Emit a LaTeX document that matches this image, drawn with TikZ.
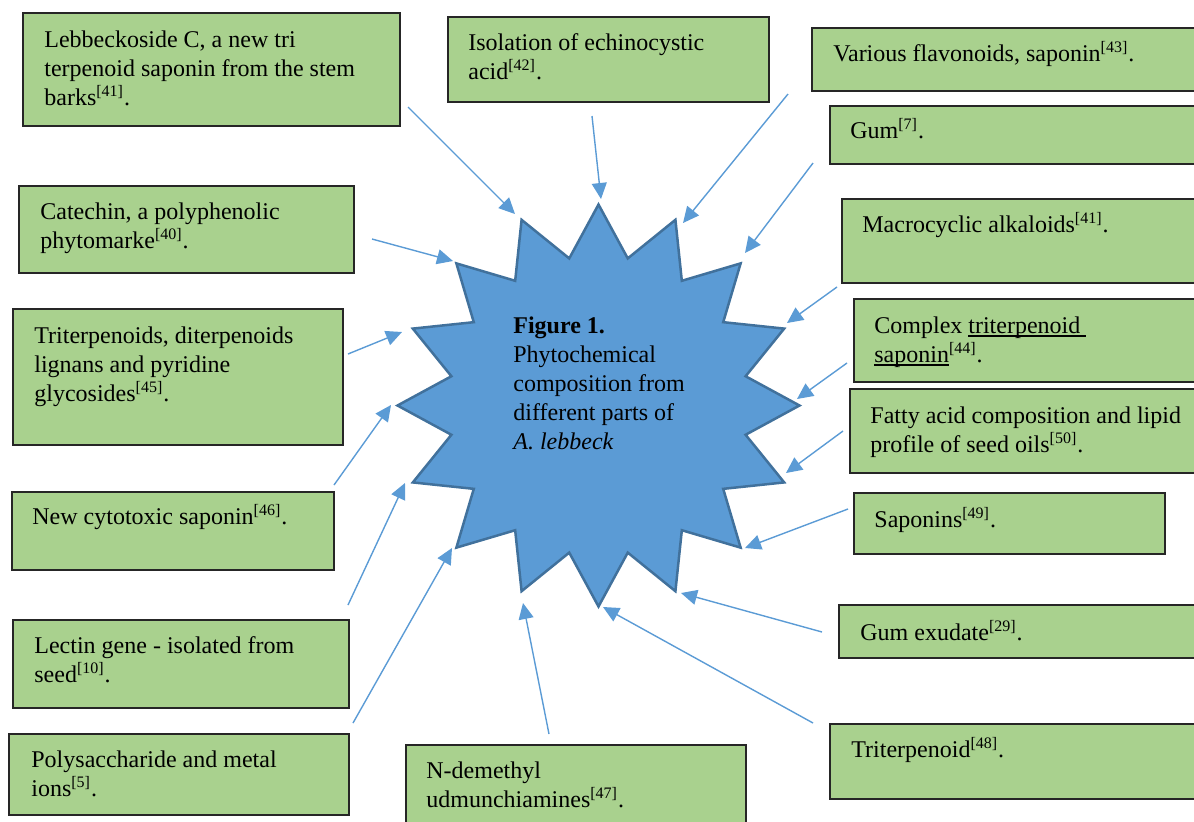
\documentclass[tikz,border=0pt]{standalone}
\usepackage{fontspec}
\setmainfont{Liberation Serif}
\usetikzlibrary{arrows.meta,calc}
\definecolor{boxgreen}{HTML}{A9D18E}
\definecolor{starblue}{HTML}{5B9BD5}
\definecolor{staredge}{HTML}{41719C}
\definecolor{arrowblue}{HTML}{5B9BD5}
\newcommand\gbox[5]{\node[gbx, minimum width={(#4-#2)*0.5pt}, minimum height={(#5-#3)*0.5pt}] (#1) at ({(#2+#4)/2},{(#3+#5)/2}) {};}
\newcommand\sref[1]{\textsuperscript{[#1]}}
\newcommand\myul[1]{\setbox0\hbox{#1}\rlap{\vrule width\wd0 height -1.2pt depth 1.85pt}\box0}
\begin{document}
\begin{tikzpicture}[x=0.5pt,y=-0.5pt,
  gbx/.style={draw=black!85, line width=1pt, fill=boxgreen, inner sep=0pt, outer sep=0pt},
  txt/.style={inner sep=0pt, anchor=base west, font=\fontsize{12pt}{14.5pt}\selectfont},
  arr/.style={draw=arrowblue, line width=0.7pt, -{Triangle[length=8pt,width=7.5pt]}},
  starshape/.style={draw=staredge, fill=starblue, line width=1.25pt, line join=miter}]
\useasboundingbox (0,0) rectangle (1194,821);
\clip (0,0) rectangle (1194,821);

% central star
\coordinate (c) at (598.5,405.5);
\path[starshape] ($(c)+(90:201)$) \foreach \i in {0,...,15}{ -- ($(c)+(90+\i*22.5+11.25:150)$) -- ($(c)+(90+\i*22.5+22.5:201)$) } -- cycle;
\node[txt] (title) at (513,333) {\vtop{\hbox{\textbf{Figure 1.}}\hbox{Phytochemical}\hbox{composition from}\hbox{different parts of}\hbox{\textit{A. lebbeck}}}};

% boxes
\gbox{b1}{23}{13}{400}{126}
\gbox{b2}{19}{186}{354}{273}
\gbox{b3}{13}{309}{343}{445}
\gbox{b4}{12}{492}{334}{570}
\gbox{b5}{13}{620}{349}{708}
\gbox{b6}{9}{734}{349}{815}
\gbox{b7}{406}{745}{746}{840}
\gbox{b8}{448}{17}{769}{102}
\gbox{b9}{812}{28}{1210}{91}
\gbox{b10}{830}{106}{1210}{164}
\gbox{b11}{842}{199}{1210}{283}
\gbox{b12}{854}{299}{1210}{382}
\gbox{b13}{850}{389}{1210}{473}
\gbox{b14}{854}{493}{1165}{554}
\gbox{b15}{839}{605}{1210}{658}
\gbox{b16}{830}{724}{1210}{799}

% texts
\node[txt] (t1) at (44,47) {\vtop{\hbox{Lebbeckoside C, a new tri}\hbox{terpenoid saponin from the stem}\hbox{barks\sref{41}.}}};
\node[txt] (t2) at (40,219) {\vtop{\hbox{Catechin, a polyphenolic}\hbox{phytomarke\sref{40}.}}};
\node[txt] (t3) at (34,343) {\vtop{\hbox{Triterpenoids, diterpenoids}\hbox{lignans and pyridine}\hbox{glycosides\sref{45}.}}};
\node[txt] (t4) at (32,524) {New cytotoxic saponin\sref{46}.};
\node[txt] (t5) at (34,653) {\vtop{\hbox{Lectin gene - isolated from}\hbox{seed\sref{10}.}}};
\node[txt] (t6) at (31,767) {\vtop{\hbox{Polysaccharide and metal}\hbox{ions\sref{5}.}}};
\node[txt] (t7) at (426,778) {\vtop{\hbox{N-demethyl}\hbox{udmunchiamines\sref{47}.}}};
\node[txt] (t8) at (468,50) {\vtop{\hbox{Isolation of echinocystic}\hbox{acid\sref{42}.}}};
\node[txt] (t9) at (833,61) {Various flavonoids, saponin\sref{43}.};
\node[txt] (t10) at (850,138) {Gum\sref{7}.};
\node[txt] (t11) at (862,232) {Macrocyclic alkaloids\sref{41}.};
\node[txt] (t12) at (874,333) {\vtop{\hbox{Complex \myul{triterpenoid\ }}\hbox{\myul{saponin}\sref{44}.}}};
\node[txt] (t13) at (870,423) {\vtop{\hbox{Fatty acid composition and lipid}\hbox{profile of seed oils\sref{50}.}}};
\node[txt] (t14) at (874,527) {Saponins\sref{49}.};
\node[txt] (t15) at (860,640) {Gum exudate\sref{29}.};
\node[txt] (t16) at (851,757) {Triterpenoid\sref{48}.};

% arrow end points
\coordinate (s1) at (408,107);  \coordinate (e1) at (515,214);
\coordinate (s2) at (592,116);  \coordinate (e2) at (601,199);
\coordinate (s3) at (788,94);   \coordinate (e3) at (683,223);
\coordinate (s4) at (813,163);  \coordinate (e4) at (745,253);
\coordinate (s5) at (372,239);  \coordinate (e5) at (453,261);
\coordinate (s6) at (837,287);  \coordinate (e6) at (787,323);
\coordinate (s7) at (847,363);  \coordinate (e7) at (797,399);
\coordinate (s8) at (843,431);  \coordinate (e8) at (786,473);
\coordinate (s9) at (848,509);  \coordinate (e9) at (745,548);
\coordinate (s10) at (822,632); \coordinate (e10) at (681,593);
\coordinate (s11) at (813,723); \coordinate (e11) at (603,607);
\coordinate (s12) at (549,734); \coordinate (e12) at (523,603);
\coordinate (s13) at (348,605); \coordinate (e13) at (405,483);
\coordinate (s14) at (353,723); \coordinate (e14) at (452,548);
\coordinate (s15) at (334,485); \coordinate (e15) at (391,405);
\coordinate (s16) at (348,354); \coordinate (e16) at (402,332);
\foreach \k in {1,...,16}{ \draw[arr] (s\k) -- (e\k); }
\end{tikzpicture}
\end{document}
